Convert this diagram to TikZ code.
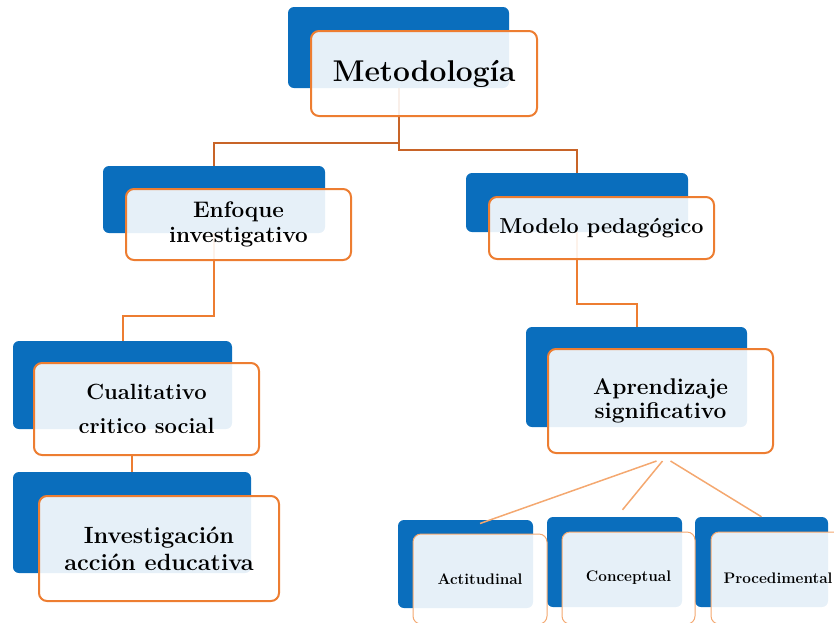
\documentclass[tikz,border=0pt]{standalone}
\usetikzlibrary{calc}
\definecolor{myblue}{HTML}{0A6EBD}
\definecolor{myorange}{HTML}{ED7D31}
\definecolor{darkorange}{HTML}{C86428}
\definecolor{lightorange}{HTML}{F4A870}
\begin{document}
\begin{tikzpicture}[x=1pt,y=-1pt,
  back/.style={fill=myblue, rounded corners=6pt, inner sep=0pt},
  front/.style={draw=myorange, line width=2pt, fill=white, fill opacity=0.9, text opacity=1,
     rounded corners=8pt, inner sep=0pt, align=center, font=\bfseries},
  frontsmall/.style={front, draw=lightorange, line width=1pt},
  conntop/.style={draw=darkorange, line width=2pt},
  conn/.style={draw=myorange, line width=2pt},
  connfan/.style={draw=lightorange, line width=1.5pt}]
\useasboundingbox (0,0) rectangle (834,622);
\clip (0,0) rectangle (834,622);
% back boxes
\node[back, minimum width=221, minimum height=81] (metoB) at (398.5,47.5) {};
\node[back, minimum width=222, minimum height=67] (enfB) at (214,199.5) {};
\node[back, minimum width=219, minimum height=88] (cuaB) at (122.5,385) {};
\node[back, minimum width=238, minimum height=101] (invB) at (132,522.5) {};
\node[back, minimum width=222, minimum height=59] (modB) at (577,202.5) {};
\node[back, minimum width=221, minimum height=100] (aprB) at (636.5,377) {};
\node[back, minimum width=135, minimum height=88] (actB) at (465.5,564) {};
\node[back, minimum width=135, minimum height=90] (conB) at (614.5,562) {};
\node[back, minimum width=133, minimum height=90] (proB) at (761.5,562) {};
% connectors
\draw[conntop] (metoB.south) -- ++(0,55) -| (enfB.north);
\draw[conntop] (metoB.south) -- ++(0,62) -| (modB.north);
\draw[conn] (enfB.south) -- ++(0,83) -| (cuaB.north);
\draw[conn] (modB.south) -- ++(0,72) -| (aprB.north);
% front boxes
\node[front, minimum width=226, minimum height=85, font=\fontsize{30}{34}\selectfont\bfseries] (metoF) at (424,73.5) {Metodología};
\node[front, minimum width=225, minimum height=71, font=\fontsize{22.5}{25}\selectfont\bfseries] (enfF) at (238.5,224.5) {Enfoque\\investigativo};
\node[front, minimum width=225, minimum height=92, font=\fontsize{22}{34}\selectfont\bfseries] (cuaF) at (146.5,409) {Cualitativo\\critico social};
\node[front, minimum width=240, minimum height=105, font=\fontsize{23.5}{27}\selectfont\bfseries] (invF) at (159,548.5) {Investigación\\acción educativa};
\node[front, minimum width=225, minimum height=62, font=\fontsize{21.6}{25}\selectfont\bfseries] (modF) at (601.5,228) {Modelo pedagógico};
\node[front, minimum width=225, minimum height=104, font=\fontsize{22.7}{24.5}\selectfont\bfseries] (aprF) at (660.5,401) {Aprendizaje\\significativo};
\node[frontsmall, minimum width=134, minimum height=90, font=\fontsize{15.3}{18}\selectfont\bfseries] (actF) at (480,579) {Actitudinal};
\node[frontsmall, minimum width=133, minimum height=92, font=\fontsize{15.3}{18}\selectfont\bfseries] (conF) at (628.5,578) {Conceptual};
\node[frontsmall, minimum width=134, minimum height=92, font=\fontsize{15.3}{18}\selectfont\bfseries] (proF) at (778,578) {Procedimental};
% short link
\draw[conn] (cuaF.south -| invB.north) -- (invB.north);
% fan connectors
\draw[connfan] ($(aprF.south)+(-4,7)$) -- ($(actF.north)+(0,-10)$);
\draw[connfan] ($(aprF.south)+(2,7)$) -- ($(conB.north)+(8,-7)$);
\draw[connfan] ($(aprF.south)+(10,7)$) -- (proB.north);
\end{tikzpicture}
\end{document}
